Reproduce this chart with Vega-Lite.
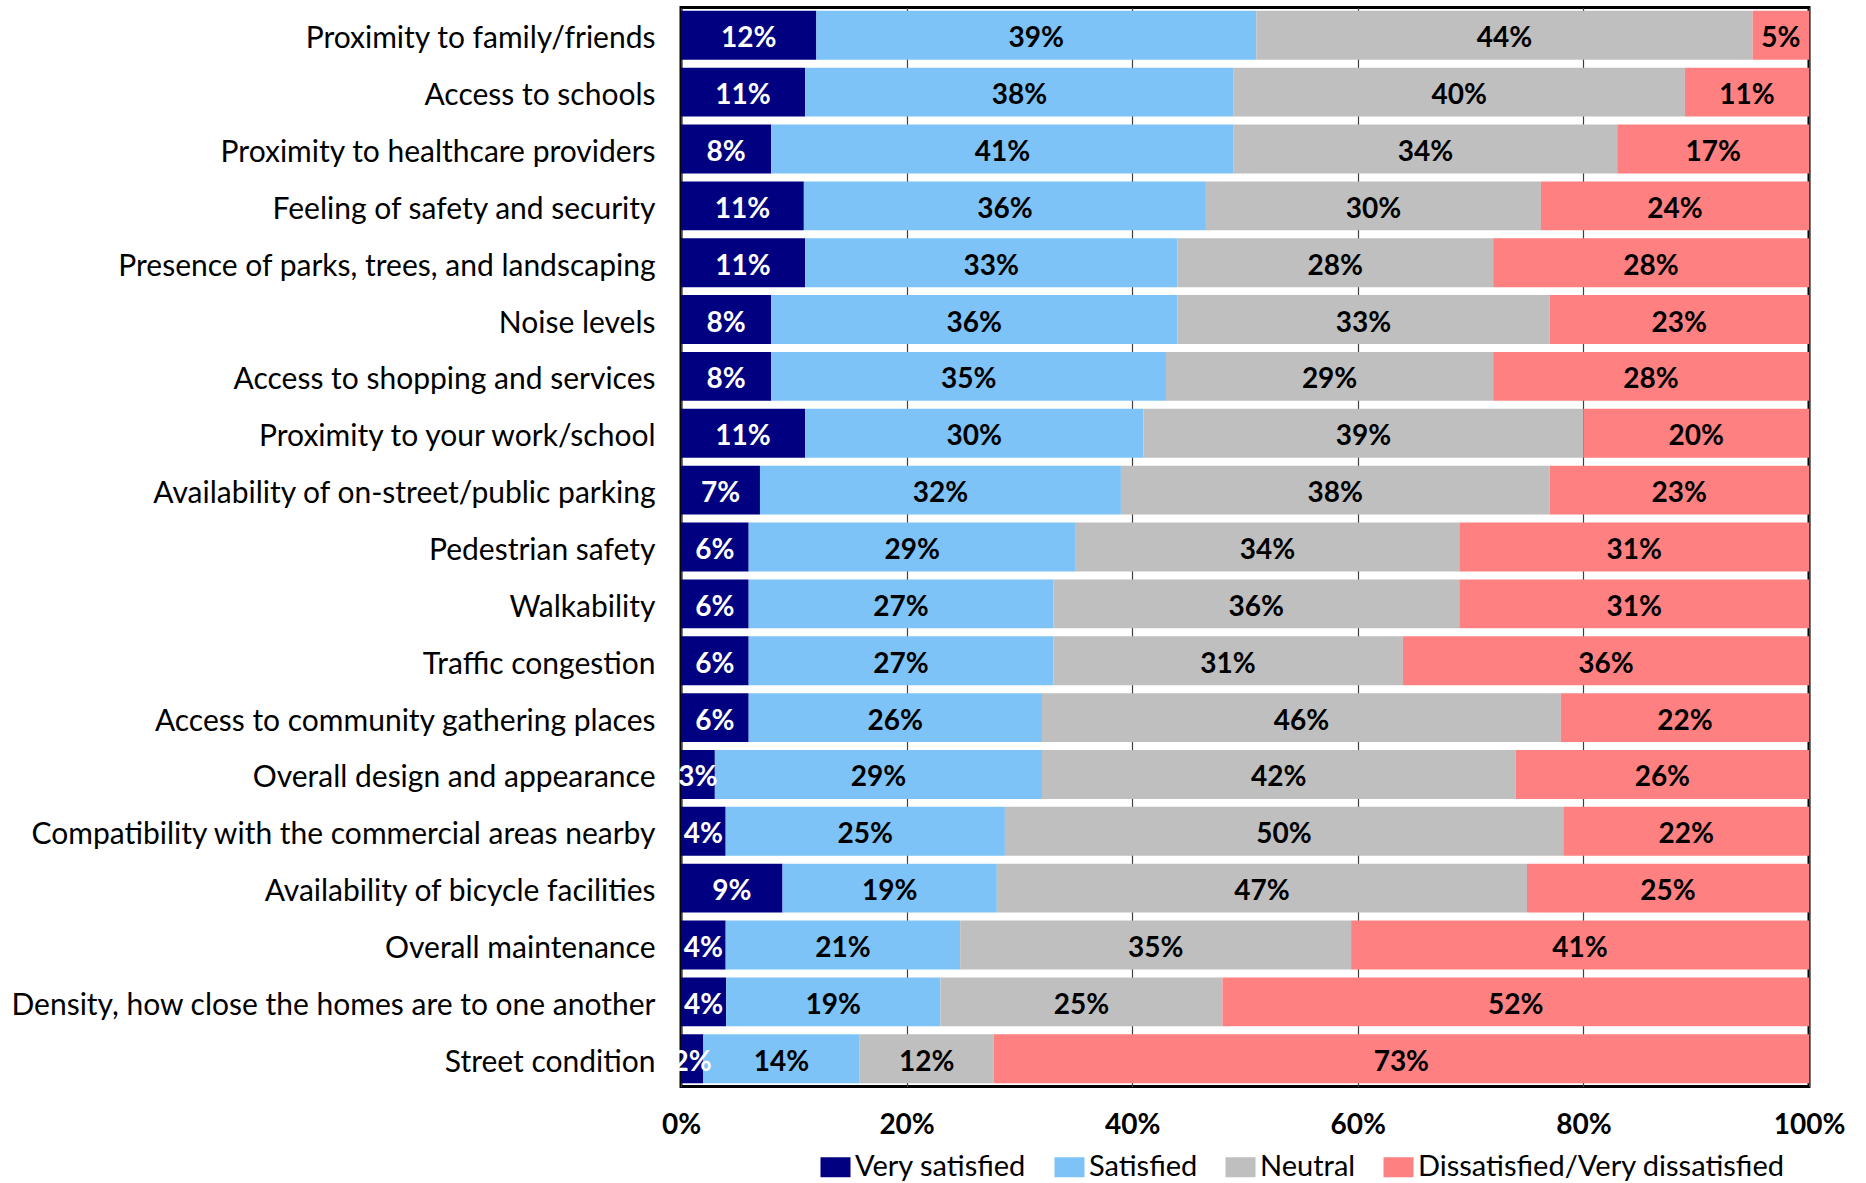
{
  "$schema": "https://vega.github.io/schema/vega-lite/v6.json",
  "autosize": {"type": "none"},
  "width": 1128,
  "height": 1079,
  "padding": {"left": 681, "top": 7.5, "right": 57, "bottom": 96},
  "background": "white",
  "config": {
    "font": "Lato",
    "view": {"stroke": "#000000", "strokeWidth": 3},
    "axis": {"labelFont": "Lato", "labelColor": "#000000"}
  },
  "datasets": {
    "survey": [
      {"item": "Proximity to family/friends", "rating": "Very satisfied", "pct": 0.12},
      {"item": "Proximity to family/friends", "rating": "Satisfied", "pct": 0.39},
      {"item": "Proximity to family/friends", "rating": "Neutral", "pct": 0.44},
      {"item": "Proximity to family/friends", "rating": "Dissatisfied/Very dissatisfied", "pct": 0.05},
      {"item": "Access to schools", "rating": "Very satisfied", "pct": 0.11},
      {"item": "Access to schools", "rating": "Satisfied", "pct": 0.38},
      {"item": "Access to schools", "rating": "Neutral", "pct": 0.40},
      {"item": "Access to schools", "rating": "Dissatisfied/Very dissatisfied", "pct": 0.11},
      {"item": "Proximity to healthcare providers", "rating": "Very satisfied", "pct": 0.08},
      {"item": "Proximity to healthcare providers", "rating": "Satisfied", "pct": 0.41},
      {"item": "Proximity to healthcare providers", "rating": "Neutral", "pct": 0.34},
      {"item": "Proximity to healthcare providers", "rating": "Dissatisfied/Very dissatisfied", "pct": 0.17},
      {"item": "Feeling of safety and security", "rating": "Very satisfied", "pct": 0.11},
      {"item": "Feeling of safety and security", "rating": "Satisfied", "pct": 0.36},
      {"item": "Feeling of safety and security", "rating": "Neutral", "pct": 0.30},
      {"item": "Feeling of safety and security", "rating": "Dissatisfied/Very dissatisfied", "pct": 0.24},
      {"item": "Presence of parks, trees, and landscaping", "rating": "Very satisfied", "pct": 0.11},
      {"item": "Presence of parks, trees, and landscaping", "rating": "Satisfied", "pct": 0.33},
      {"item": "Presence of parks, trees, and landscaping", "rating": "Neutral", "pct": 0.28},
      {"item": "Presence of parks, trees, and landscaping", "rating": "Dissatisfied/Very dissatisfied", "pct": 0.28},
      {"item": "Noise levels", "rating": "Very satisfied", "pct": 0.08},
      {"item": "Noise levels", "rating": "Satisfied", "pct": 0.36},
      {"item": "Noise levels", "rating": "Neutral", "pct": 0.33},
      {"item": "Noise levels", "rating": "Dissatisfied/Very dissatisfied", "pct": 0.23},
      {"item": "Access to shopping and services", "rating": "Very satisfied", "pct": 0.08},
      {"item": "Access to shopping and services", "rating": "Satisfied", "pct": 0.35},
      {"item": "Access to shopping and services", "rating": "Neutral", "pct": 0.29},
      {"item": "Access to shopping and services", "rating": "Dissatisfied/Very dissatisfied", "pct": 0.28},
      {"item": "Proximity to your work/school", "rating": "Very satisfied", "pct": 0.11},
      {"item": "Proximity to your work/school", "rating": "Satisfied", "pct": 0.30},
      {"item": "Proximity to your work/school", "rating": "Neutral", "pct": 0.39},
      {"item": "Proximity to your work/school", "rating": "Dissatisfied/Very dissatisfied", "pct": 0.20},
      {"item": "Availability of on-street/public parking", "rating": "Very satisfied", "pct": 0.07},
      {"item": "Availability of on-street/public parking", "rating": "Satisfied", "pct": 0.32},
      {"item": "Availability of on-street/public parking", "rating": "Neutral", "pct": 0.38},
      {"item": "Availability of on-street/public parking", "rating": "Dissatisfied/Very dissatisfied", "pct": 0.23},
      {"item": "Pedestrian safety", "rating": "Very satisfied", "pct": 0.06},
      {"item": "Pedestrian safety", "rating": "Satisfied", "pct": 0.29},
      {"item": "Pedestrian safety", "rating": "Neutral", "pct": 0.34},
      {"item": "Pedestrian safety", "rating": "Dissatisfied/Very dissatisfied", "pct": 0.31},
      {"item": "Walkability", "rating": "Very satisfied", "pct": 0.06},
      {"item": "Walkability", "rating": "Satisfied", "pct": 0.27},
      {"item": "Walkability", "rating": "Neutral", "pct": 0.36},
      {"item": "Walkability", "rating": "Dissatisfied/Very dissatisfied", "pct": 0.31},
      {"item": "Traffic congestion", "rating": "Very satisfied", "pct": 0.06},
      {"item": "Traffic congestion", "rating": "Satisfied", "pct": 0.27},
      {"item": "Traffic congestion", "rating": "Neutral", "pct": 0.31},
      {"item": "Traffic congestion", "rating": "Dissatisfied/Very dissatisfied", "pct": 0.36},
      {"item": "Access to community gathering places", "rating": "Very satisfied", "pct": 0.06},
      {"item": "Access to community gathering places", "rating": "Satisfied", "pct": 0.26},
      {"item": "Access to community gathering places", "rating": "Neutral", "pct": 0.46},
      {"item": "Access to community gathering places", "rating": "Dissatisfied/Very dissatisfied", "pct": 0.22},
      {"item": "Overall design and appearance", "rating": "Very satisfied", "pct": 0.03},
      {"item": "Overall design and appearance", "rating": "Satisfied", "pct": 0.29},
      {"item": "Overall design and appearance", "rating": "Neutral", "pct": 0.42},
      {"item": "Overall design and appearance", "rating": "Dissatisfied/Very dissatisfied", "pct": 0.26},
      {"item": "Compatibility with the commercial areas nearby", "rating": "Very satisfied", "pct": 0.04},
      {"item": "Compatibility with the commercial areas nearby", "rating": "Satisfied", "pct": 0.25},
      {"item": "Compatibility with the commercial areas nearby", "rating": "Neutral", "pct": 0.50},
      {"item": "Compatibility with the commercial areas nearby", "rating": "Dissatisfied/Very dissatisfied", "pct": 0.22},
      {"item": "Availability of bicycle facilities", "rating": "Very satisfied", "pct": 0.09},
      {"item": "Availability of bicycle facilities", "rating": "Satisfied", "pct": 0.19},
      {"item": "Availability of bicycle facilities", "rating": "Neutral", "pct": 0.47},
      {"item": "Availability of bicycle facilities", "rating": "Dissatisfied/Very dissatisfied", "pct": 0.25},
      {"item": "Overall maintenance", "rating": "Very satisfied", "pct": 0.04},
      {"item": "Overall maintenance", "rating": "Satisfied", "pct": 0.21},
      {"item": "Overall maintenance", "rating": "Neutral", "pct": 0.35},
      {"item": "Overall maintenance", "rating": "Dissatisfied/Very dissatisfied", "pct": 0.41},
      {"item": "Density, how close the homes are to one another", "rating": "Very satisfied", "pct": 0.04},
      {"item": "Density, how close the homes are to one another", "rating": "Satisfied", "pct": 0.19},
      {"item": "Density, how close the homes are to one another", "rating": "Neutral", "pct": 0.25},
      {"item": "Density, how close the homes are to one another", "rating": "Dissatisfied/Very dissatisfied", "pct": 0.52},
      {"item": "Street condition", "rating": "Very satisfied", "pct": 0.02},
      {"item": "Street condition", "rating": "Satisfied", "pct": 0.14},
      {"item": "Street condition", "rating": "Neutral", "pct": 0.12},
      {"item": "Street condition", "rating": "Dissatisfied/Very dissatisfied", "pct": 0.73}
    ]
  },
  "data": {"name": "survey"},
  "transform": [
    {"stack": "pct", "groupby": ["item"], "sort": [{"field": "rating", "order": "descending"}], "offset": "normalize", "as": ["x0", "x1"]}
  ],
  "layer": [
    {
      "mark": {"type": "bar"},
      "encoding": {
        "y": {
          "field": "item", "type": "nominal", "sort": null,
          "scale": {"paddingInner": 0.14, "paddingOuter": 0.058},
          "axis": {"title": null, "ticks": false, "domain": false, "labelFontSize": 30, "labelPadding": 26, "labelOffset": 4, "labelLimit": 800, "grid": false}
        },
        "x": {
          "field": "x0", "type": "quantitative",
          "scale": {"domain": [0, 1], "nice": false},
          "axis": {"title": null, "format": ".0%", "values": [0, 0.2, 0.4, 0.6, 0.8, 1], "grid": true, "gridColor": "#404040", "gridWidth": 1.2, "ticks": false, "domain": false, "labelFontSize": 28, "labelFontWeight": "bold", "labelPadding": 25, "labelFlush": false}
        },
        "x2": {"field": "x1"},
        "color": {
          "field": "rating", "type": "nominal",
          "scale": {
            "domain": ["Very satisfied", "Satisfied", "Neutral", "Dissatisfied/Very dissatisfied"],
            "range": ["#000080", "#7DC3F7", "#BFBFBF", "#FF8080"]
          },
          "legend": {
            "title": null, "orient": "none", "direction": "horizontal",
            "legendX": 140, "legendY": 1145,
            "symbolType": "M-1.5,-1H1.5V1H-1.5Z", "symbolSize": 400, "symbolStrokeWidth": 0,
            "labelFontSize": 29, "labelFont": "Lato", "labelColor": "#000000", "labelOffset": 5,
            "columnPadding": 27, "labelLimit": 600
          }
        }
      }
    },
    {
      "transform": [
        {"fold": ["x0", "x1"], "as": ["edge", "pos"]},
        {"aggregate": [{"op": "mean", "field": "pos", "as": "mid"}], "groupby": ["item", "rating", "pct"]}
      ],
      "mark": {"type": "text", "fontSize": 28, "fontWeight": "bold", "font": "Lato", "baseline": "middle", "align": "center", "dy": 4},
      "encoding": {
        "y": {"field": "item", "type": "nominal", "sort": null},
        "x": {"field": "mid", "type": "quantitative"},
        "text": {"field": "pct", "type": "quantitative", "format": ".0%"},
        "color": {
          "condition": {"test": "datum.rating === 'Very satisfied'", "value": "#ffffff"},
          "value": "#000000"
        }
      }
    }
  ]
}
